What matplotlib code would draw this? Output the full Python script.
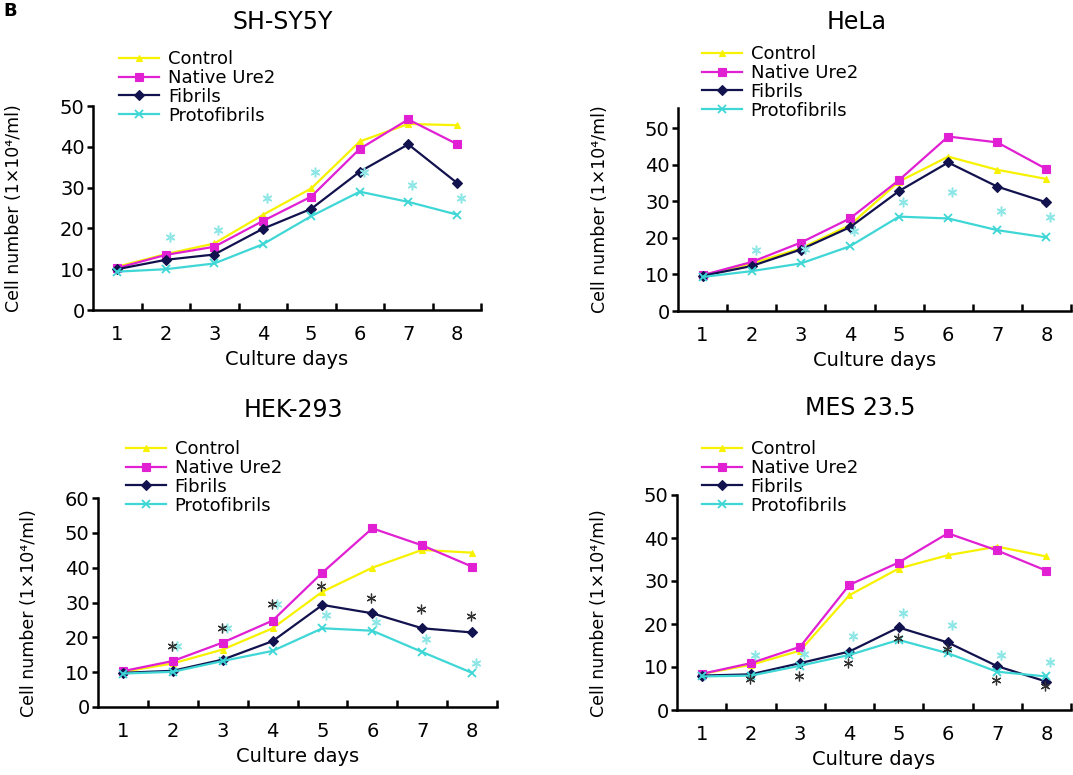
import numpy as np
import matplotlib
matplotlib.use("Agg")
import matplotlib.pyplot as plt

W, H = 1073, 775

days = [1, 2, 3, 4, 5, 6, 7, 8]
series_names = ["Control", "Native Ure2", "Fibrils", "Protofibrils"]

# SH-SY5Y
shsy_control = [10.6, 13.7, 16.3, 23.3, 29.8, 41.3, 45.6, 45.3]
shsy_native = [10.3, 13.5, 15.5, 21.8, 27.8, 39.5, 46.7, 40.7]
shsy_fibrils = [10.0, 12.3, 13.6, 19.9, 24.8, 33.9, 40.6, 31.2]
shsy_proto = [9.4, 10.0, 11.4, 16.1, 23.0, 29.0, 26.5, 23.4]
shsy_star_cyan_days = [2, 3, 4, 5, 6, 7, 8]
shsy_star_cyan = [17.8, 19.6, 27.4, 33.9, 33.9, 30.6, 27.4]

# HeLa
hela_control = [9.8, 13.0, 17.1, 23.5, 35.4, 42.2, 38.6, 36.1]
hela_native = [9.8, 13.4, 18.7, 25.3, 35.8, 47.7, 46.1, 38.8]
hela_fibrils = [9.6, 12.3, 16.8, 22.9, 32.8, 40.6, 34.0, 29.7]
hela_proto = [9.3, 10.9, 13.0, 17.7, 25.8, 25.3, 22.1, 20.1]
hela_star_cyan_days = [2, 3, 4, 5, 6, 7, 8]
hela_star_cyan = [16.6, 17.0, 22.0, 29.7, 32.6, 27.4, 25.8]

# HEK-293
hek_control = [10.1, 12.5, 16.5, 22.6, 33.1, 40.0, 45.1, 44.3]
hek_native = [10.3, 13.2, 18.5, 24.8, 38.6, 51.3, 46.4, 40.3]
hek_fibrils = [9.8, 10.4, 13.6, 18.9, 29.3, 26.9, 22.6, 21.4]
hek_proto = [9.6, 10.1, 13.2, 16.1, 22.6, 21.9, 15.8, 9.8]
hek_star_black_days = [2, 3, 4, 5, 6, 7, 8]
hek_star_black = [17.5, 22.8, 29.6, 34.7, 31.2, 28.0, 26.1]
hek_star_cyan_days = [2, 3, 4, 5, 6, 7, 8]
hek_star_cyan = [17.5, 22.8, 29.6, 26.4, 24.5, 19.4, 12.5]

# MES 23.5
mes_control = [8.4, 10.5, 13.8, 26.7, 32.9, 36.0, 38.0, 35.7]
mes_native = [8.4, 10.9, 14.7, 29.1, 34.3, 41.1, 37.1, 32.4]
mes_fibrils = [8.0, 8.3, 10.9, 13.6, 19.2, 15.7, 10.2, 6.6]
mes_proto = [7.8, 8.0, 10.3, 12.8, 16.3, 13.2, 8.9, 7.8]
mes_star_black_days = [2, 3, 4, 5, 6, 7, 8]
mes_star_black = [7.1, 7.9, 11.0, 16.7, 14.1, 7.0, 5.6]
mes_star_cyan_days = [2, 3, 4, 5, 6, 7, 8]
mes_star_cyan = [12.8, 13.0, 17.1, 22.5, 19.8, 12.8, 11.2]

colors = ["#F7F200", "#E020D2", "#12124E", "#3FD6D6"]
markers = ["^", "s", "D", "x"]
msizes = [5, 6, 5, 6]

plt.rcParams["font.family"] = ["DejaVu Sans"]


def px_to_fig(x, y):
    return x / W, 1 - y / H


def make_axes(fig, left, top, right, bottom):
    l, b = px_to_fig(left, bottom)
    r, t = px_to_fig(right, top)
    return fig.add_axes([l, b, r - l, t - b])


def draw_panel(ax, fig, title, title_xy, data, ymax, yticks, legend_xy,
               ylabel_xy, stars_black=None, stars_cyan=None):
    for vals, name, c, m, ms in zip(data, series_names, colors, markers, msizes):
        ax.plot(days, vals, color=c, marker=m, markersize=ms, linewidth=1.6,
                markeredgewidth=1.3 if m == "x" else 0.8, label=name)

    if stars_cyan is not None:
        sd, sv = stars_cyan
        ax.plot(np.array(sd) + 0.08, sv, linestyle="none", marker=(6, 2, 0),
                markersize=7, color="#8FE6E6", markeredgewidth=1.1)
    if stars_black is not None:
        sd, sv = stars_black
        ax.plot(np.array(sd) - 0.02, sv, linestyle="none", marker=(6, 2, 0),
                markersize=7, color="#333333", markeredgewidth=0.9)

    ax.set_xlim(0.5, 8.5)
    ax.set_ylim(0, ymax)
    ax.set_yticks(yticks)
    ax.set_xticks(days)
    ax.set_xticks(np.arange(1.5, 9.0, 1.0), minor=True)
    ax.tick_params(axis="x", which="major", length=0, pad=11, labelsize=14)
    ax.tick_params(axis="x", which="minor", direction="in", length=5, width=1.8)
    ax.tick_params(axis="y", which="major", direction="out", length=4, width=1.8,
                   pad=2, labelsize=14)
    for s in ["top", "right"]:
        ax.spines[s].set_visible(False)
    for s in ["left", "bottom"]:
        ax.spines[s].set_linewidth(1.8)
        ax.spines[s].set_color("black")
    ax.patch.set_alpha(0)

    ax.set_xlabel("Culture days", fontsize=14, labelpad=4)
    ax.set_ylabel("Cell number (1×10⁴/ml)", fontsize=12.5)
    ax.yaxis.set_label_coords(*ylabel_xy)

    tx, ty = px_to_fig(*title_xy)
    fig.text(tx, ty, title, fontsize=17, ha="center", va="center")

    lx, ly = px_to_fig(*legend_xy)
    ax.legend(loc="upper left", bbox_to_anchor=(lx, ly),
              bbox_transform=fig.transFigure, frameon=False, fontsize=13,
              handlelength=2.2, handletextpad=0.5, labelspacing=0.05,
              borderpad=0, borderaxespad=0)


fig = plt.figure(figsize=(W / 100, H / 100), dpi=100)

ax1 = make_axes(fig, 93, 106, 481, 310)
draw_panel(ax1, fig, "SH-SY5Y", (283, 22),
           [shsy_control, shsy_native, shsy_fibrils, shsy_proto],
           50, [0, 10, 20, 30, 40, 50], (119, 50), (-0.18, 0.5),
           stars_cyan=(shsy_star_cyan_days, shsy_star_cyan))

ax2 = make_axes(fig, 678, 108, 1071, 311)
draw_panel(ax2, fig, "HeLa", (857, 22),
           [hela_control, hela_native, hela_fibrils, hela_proto],
           55.5, [0, 10, 20, 30, 40, 50], (702, 45), (-0.175, 0.5),
           stars_cyan=(hela_star_cyan_days, hela_star_cyan))

ax3 = make_axes(fig, 98, 498, 497, 707)
draw_panel(ax3, fig, "HEK-293", (293, 410),
           [hek_control, hek_native, hek_fibrils, hek_proto],
           60, [0, 10, 20, 30, 40, 50, 60], (126, 440), (-0.15, 0.45),
           stars_black=(hek_star_black_days, hek_star_black),
           stars_cyan=(hek_star_cyan_days, hek_star_cyan))

ax4 = make_axes(fig, 677, 495, 1071, 710)
draw_panel(ax4, fig, "MES 23.5", (860, 408),
           [mes_control, mes_native, mes_fibrils, mes_proto],
           50, [0, 10, 20, 30, 40, 50], (702, 440), (-0.175, 0.45),
           stars_black=(mes_star_black_days, mes_star_black),
           stars_cyan=(mes_star_cyan_days, mes_star_cyan))

fig.text(0.003, 0.998, "B", fontsize=13, fontweight="bold", ha="left", va="top")

fig.savefig("out.png", dpi=100)
